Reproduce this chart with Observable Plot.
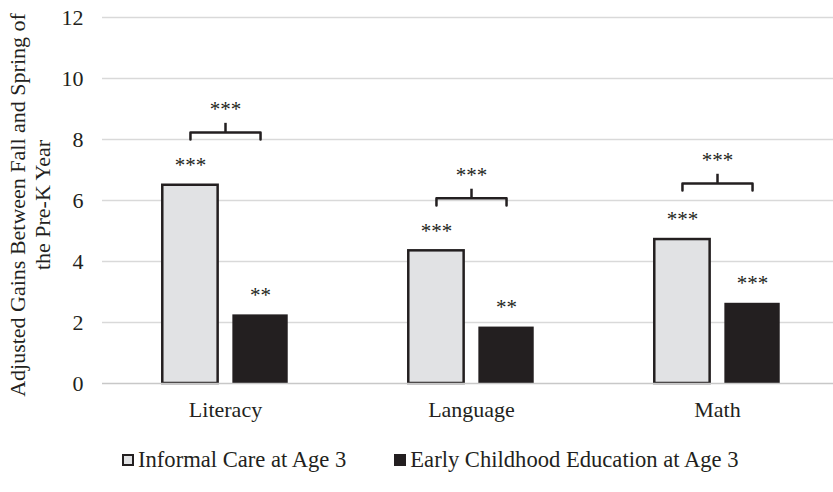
<!DOCTYPE html>
<html><head><meta charset="utf-8">
<script src="https://cdn.jsdelivr.net/npm/d3@7"></script>
<script src="https://cdn.jsdelivr.net/npm/@observablehq/plot@0.6"></script>
<style>
html,body{margin:0;padding:0;background:#fff;overflow:hidden;width:833px;height:492px;}
#chart{position:relative;width:833px;height:492px;overflow:hidden;}
#chart svg{position:absolute;left:0;top:0;max-width:none !important;}
.legend{position:absolute;left:122px;top:440px;height:40px;display:flex;align-items:center;font-family:"Liberation Serif",serif;font-size:22.6px;color:#231f20;white-space:nowrap;}
.legend .item{display:flex;align-items:center;}
.legend .sw{width:12px;height:12px;box-sizing:border-box;margin-right:4px;}
.legend .item + .item{margin-left:48px;}
</style></head><body><div id="chart"></div><script>
const categories = ["Literacy", "Language", "Math"];
const seriesNames = ["Informal Care at Age 3", "Early Childhood Education at Age 3"];
const informalGains = [6.5, 4.35, 4.72];
const eceGains = [2.25, 1.85, 2.63];
const informalStars = ["***", "***", "***"];
const eceStars = ["**", "**", "***"];
const bracketLevels = [8.23, 6.07, 6.56];
const bracketStars = ["***", "***", "***"];
const yTicks = [0, 2, 4, 6, 8, 10, 12];
const yTitle = ["Adjusted Gains Between Fall and Spring of", "the Pre-K Year"];

const colors = {informal: "#e1e2e4", ece: "#231f20", ink: "#231f20", grid: "#d9d9d9"};

const bars = categories.flatMap((c, i) => [
  {category: c, series: seriesNames[0], value: informalGains[i], stars: informalStars[i]},
  {category: c, series: seriesNames[1], value: eceGains[i], stars: eceStars[i]}
]);
const brackets = categories.map((c, i) => ({category: c, level: bracketLevels[i], stars: bracketStars[i]}));
const drop = 0.23, rise = 0.3;
const bracketPts = brackets.flatMap(b => [
  {category: b.category, series: seriesNames[0], y: b.level - drop},
  {category: b.category, series: seriesNames[0], y: b.level},
  {category: b.category, series: seriesNames[1], y: b.level},
  {category: b.category, series: seriesNames[1], y: b.level - drop}
]);

const W = 840, H = 440;
const plot = Plot.plot({
  width: W, height: H,
  marginTop: 17, marginBottom: 57, marginLeft: 102, marginRight: 0,
  style: {fontFamily: "'Liberation Serif', serif", fontSize: "22px", color: colors.ink, background: "white", maxWidth: "none"},
  fx: {domain: categories, padding: 0, axis: "bottom", label: null, tickSize: 0, tickPadding: 18},
  x: {domain: seriesNames, paddingInner: 0.21, paddingOuter: 0.86, round: false, axis: null},
  y: {domain: [0, 12], ticks: yTicks, tickSize: 0, tickPadding: 19, label: null, tickFormat: d3.format("d")},
  marks: [
    Plot.ruleY(yTicks.filter(t => t > 0), {stroke: colors.grid, strokeWidth: 1.5}),
    Plot.barY(bars.filter(d => d.series === seriesNames[0]), {fx: "category", x: "series", y: "value", fill: colors.informal, stroke: colors.ink, strokeWidth: 2.5}),
    Plot.barY(bars.filter(d => d.series === seriesNames[1]), {fx: "category", x: "series", y: "value", fill: colors.ece}),
    Plot.ruleY([0], {stroke: "#c8c8c8", strokeWidth: 1.5}),
    Plot.text(bars, {fx: "category", x: "series", y: "value", text: "stars", dy: -20, fontSize: 21, fill: colors.ink}),
    Plot.line(bracketPts, {fx: "category", x: "series", y: "y", z: "category", stroke: colors.ink, strokeWidth: 2.5, strokeLinejoin: "round"}),
    Plot.ruleX(brackets, {fx: "category", x: null, y1: "level", y2: d => d.level + rise, stroke: colors.ink, strokeWidth: 2.5}),
    Plot.text(brackets, {fx: "category", y: "level", text: "stars", dy: -23, fontSize: 21, fill: colors.ink})
  ]
});
const chart = document.getElementById("chart");
chart.appendChild(plot);

// rotated two-line y-axis title
const svg = d3.select(plot);
const titleCenter = 205;
[25, 50].forEach((bx, i) => {
  svg.append("text")
    .attr("transform", `translate(${bx},${titleCenter}) rotate(-90)`)
    .attr("text-anchor", "middle")
    .attr("fill", colors.ink)
    .style("font-family", "'Liberation Serif', serif")
    .style("font-size", "22px")
    .text(yTitle[i]);
});

// legend
const legend = document.createElement("div");
legend.className = "legend";
seriesNames.forEach((name, i) => {
  const item = document.createElement("div");
  item.className = "item";
  const sw = document.createElement("span");
  sw.className = "sw";
  sw.style.background = i === 0 ? colors.informal : colors.ece;
  sw.style.border = `2px solid ${colors.ink}`;
  const label = document.createElement("span");
  label.textContent = name;
  item.appendChild(sw);
  item.appendChild(label);
  legend.appendChild(item);
});
chart.appendChild(legend);
</script></body></html>
